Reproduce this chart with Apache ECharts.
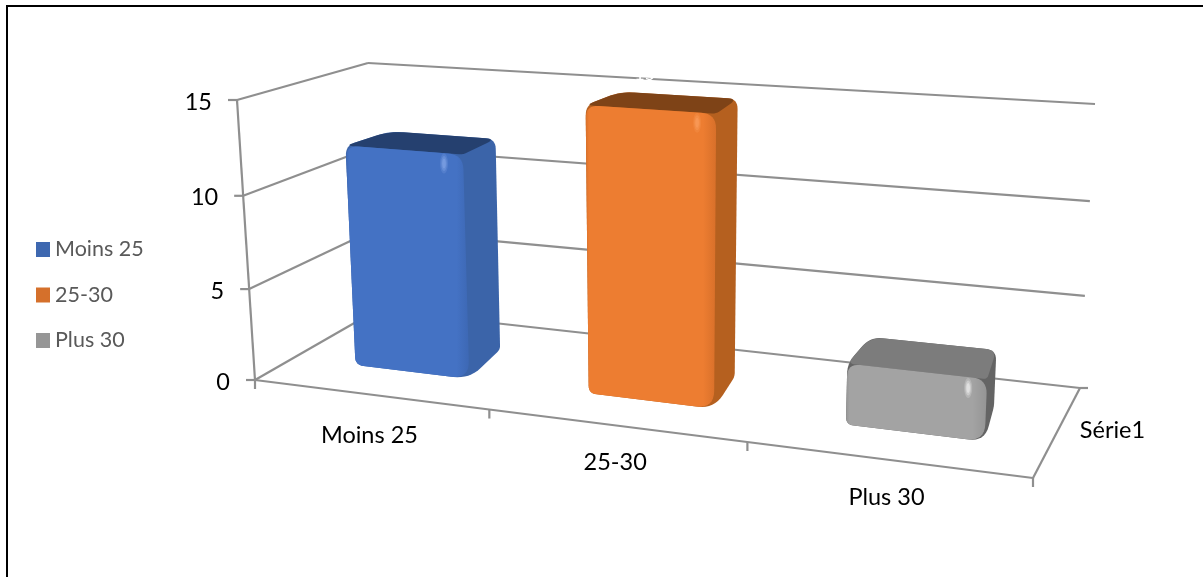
<!DOCTYPE html>
<html>
<head>
<meta charset="utf-8">
<style>html,body{margin:0;padding:0;background:#fff}#chart{width:1203px;height:577px}</style>
<script src="https://cdn.jsdelivr.net/npm/echarts@6/dist/echarts.min.js"></script>
</head>
<body>
<div id="chart"></div>
<script>
// Chart content
const categories = ['Moins 25', '25-30', 'Plus 30'];
const values = [12, 15, 3];
const valueTicks = [0, 5, 10, 15];
const depthLabel = 'Série1';
const legendColors = ['#3E68B0', '#D5702B', '#969696'];

// Face colours of each column: front, right side, top
const frontColors = ['#4472C4', '#ED7D31', '#A3A3A3'];
const frontEdges = ['#3D68B4', '#D8702A', '#959595'];
const sideColors = ['#3B64A9', '#B5601F', '#646464'];
const topColors = ['#25406F', '#7E4317', '#7C7C7C'];
const glowColors = ['#8FB0EE', '#FFA566', '#FFFFFF'];

// Drop of each category label below the front edge
const categoryLabelDrop = [41, 37, 38];

// Hidden plane the axes scale into; it is then projected onto the tilted box
const plane = { left: 100, top: 100, width: 900, height: 300 };

// Box corners on screen, front/back, bottom/top, left/right
const box = {
  fbl: [255, 380], fbr: [1033, 478], ftl: [237, 100], ftr: [1049, 156],
  bbl: [377, 310], bbr: [1080, 388], btl: [368, 63], btr: [1095, 104]
};
const widthPerspective = 1.16;
const heightPerspective = 1.04;
const barFront = 0.32, barBack = 0.7;
const barStart = 0.28, barEnd = 0.78, barEndBack = 0.74, barStartBack = 0.27;
const bevelLift = 3;

const foreshorten = (t, k) => t / (t + (1 - t) * k);
const mix = (a, b, t) => [a[0] + (b[0] - a[0]) * t, a[1] + (b[1] - a[1]) * t];

function project(s, t, d) {
  const u = foreshorten(s, widthPerspective);
  const v = foreshorten(t, heightPerspective);
  const front = mix(mix(box.fbl, box.fbr, u), mix(box.ftl, box.ftr, u), v);
  const back = mix(mix(box.bbl, box.bbr, u), mix(box.btl, box.btr, u), v);
  return mix(front, back, d);
}

// Screen position of (category slot + offset, value, depth) via the axis scales
function place(api, idx, offset, value, depth) {
  const p = api.coord([idx, value]);
  const band = api.size([1, 0])[0];
  const s = (p[0] + (offset - 0.5) * band - plane.left) / plane.width;
  const t = (plane.top + plane.height - p[1]) / plane.height;
  return project(s, t, depth);
}

// Polygon through the corners, each corner softened by its own radius
function rounded(corners, radii) {
  const out = [];
  const n = corners.length;
  corners.forEach((c, i) => {
    const prev = corners[(i + n - 1) % n], next = corners[(i + 1) % n];
    const r = radii[i];
    const lenA = Math.hypot(prev[0] - c[0], prev[1] - c[1]);
    const lenB = Math.hypot(next[0] - c[0], next[1] - c[1]);
    const a = mix(c, prev, Math.min(r / lenA, 0.5));
    const b = mix(c, next, Math.min(r / lenB, 0.5));
    for (let k = 0; k <= 8; k++) {
      const q = k / 8;
      out.push(mix(mix(a, c, q), mix(c, b, q), q));
    }
  });
  return out;
}

function renderColumn(params, api) {
  const i = api.value(0);
  const val = api.value(1);
  const at = (off, v, d) => place(api, i, off, v, d);
  const lifted = p => [p[0], p[1] - bevelLift];
  const fbl = at(barStart, 0, barFront), fbr = at(barEnd, 0, barFront);
  const ftl = lifted(at(barStart, val, barFront)), ftr = lifted(at(barEnd, val, barFront));
  const bbr = at(barEndBack, 0, barBack), btr = at(barEndBack, val, barBack);
  const btl = at(barStartBack, val, barBack);
  const poly = (points, fill) => ({ type: 'polygon', shape: { points }, style: { fill } });
  const frontFill = new echarts.graphic.LinearGradient(0, 0, 1, 0, [
    { offset: 0, color: frontEdges[i] },
    { offset: 0.025, color: frontColors[i] },
    { offset: 0.9, color: frontColors[i] },
    { offset: 1, color: frontEdges[i] }
  ]);
  const glow = (rx, ry, opacity) => ({
    type: 'ellipse',
    shape: { cx: ftr[0] - 19, cy: ftr[1] + 9, rx, ry },
    style: { fill: glowColors[i], opacity }
  });
  const mid = at(0.33, val * 1.05, 0.8);
  return {
    type: 'group',
    children: [
      poly(rounded([fbl, fbr, bbr, btr, btl, ftl], [8, 16, 4, 10, 12, 10]), sideColors[i]),
      poly(rounded([ftl, ftr, btr, btl], [8, 4, 10, 14]), topColors[i]),
      poly(rounded([fbl, fbr, ftr, ftl], [8, 18, 15, 13]), frontFill),
      glow(4, 10, 0.2), glow(2.8, 7.5, 0.3), glow(1.8, 5, 0.4),
      {
        type: 'text',
        style: {
          x: mid[0], y: mid[1], text: String(val), fill: '#FFFFFF',
          font: '18px Lato', align: 'center', verticalAlign: 'middle'
        }
      }
    ]
  };
}

// Walls, floor outline, ticks and axis labels
function renderFrame(params, api) {
  const children = [];
  const line = (a, b) => children.push({
    type: 'line',
    shape: { x1: a[0], y1: a[1], x2: b[0], y2: b[1] },
    style: { stroke: '#8F8F8F', lineWidth: 2.2 }
  });
  const label = (p, text, align, size) => children.push({
    type: 'text',
    style: { x: p[0], y: p[1], text, fill: '#000000', font: size + 'px Lato', align, verticalAlign: 'middle' }
  });
  const last = categories.length - 1;
  const lo = valueTicks[0], hi = valueTicks[valueTicks.length - 1];

  valueTicks.forEach(v => {
    const front = place(api, 0, 0, v, 0);
    line(front, place(api, 0, 0, v, 1));
    line(place(api, 0, 0, v, 1), place(api, last, 1, v, 1));
    line(front, [front[0] - 9, front[1]]);
    label([front[0] - 25, front[1] + 2], String(v), 'right', 23.5);
  });
  line(place(api, 0, 0, lo, 0), place(api, 0, 0, hi, 0));
  line(place(api, 0, 0, lo, 0), place(api, last, 1, lo, 0));
  line(place(api, last, 1, lo, 0), place(api, last, 1, lo, 1));
  const backEnd = place(api, last, 1, lo, 1);
  line(backEnd, [backEnd[0] + 8, backEnd[1]]);

  categories.forEach((c, i) => {
    const tick = place(api, i, 0, lo, 0);
    line(tick, [tick[0], tick[1] + 9]);
    const centre = place(api, i, 0.5, lo, 0);
    label([centre[0], centre[1] + categoryLabelDrop[i]], c, 'center', 23.5);
  });
  const endTick = place(api, last, 1, lo, 0);
  line(endTick, [endTick[0], endTick[1] + 9]);
  const side = place(api, last, 1, lo, 0.5);
  label([side[0] + 56, side[1] - 3], depthLabel, 'center', 23.5);
  return { type: 'group', children };
}

const columnSeries = categories.map((name, i) => ({
  type: 'custom',
  name,
  data: [[i, values[i]]],
  encode: { x: 0, y: 1 },
  itemStyle: { color: legendColors[i] },
  renderItem: renderColumn,
  z: 3,
  silent: true
}));

const chart = echarts.init(document.getElementById('chart'), null, { renderer: 'canvas' });
chart.setOption({
  animation: false,
  backgroundColor: '#FFFFFF',
  grid: plane,
  xAxis: { type: 'category', data: categories, show: false, boundaryGap: true },
  yAxis: { type: 'value', min: valueTicks[0], max: valueTicks[valueTicks.length - 1], show: false },
  legend: {
    orient: 'vertical',
    left: 31,
    top: 233.5,
    itemWidth: 14,
    itemHeight: 15,
    itemGap: 23.5,
    icon: 'rect',
    selectedMode: false,
    data: categories,
    textStyle: { fontFamily: 'Lato', fontSize: 21.5, lineHeight: 20, color: '#595959' }
  },
  graphic: [{
    type: 'polyline',
    shape: { points: [[7, 577], [7, 6], [1203, 6]] },
    style: { stroke: '#000000', lineWidth: 2, fill: 'none' },
    silent: true
  }],
  series: [{
    type: 'custom',
    name: 'frame',
    data: [[0, 0]],
    renderItem: renderFrame,
    z: 1,
    silent: true
  }].concat(columnSeries)
});
</script>
</body>
</html>
